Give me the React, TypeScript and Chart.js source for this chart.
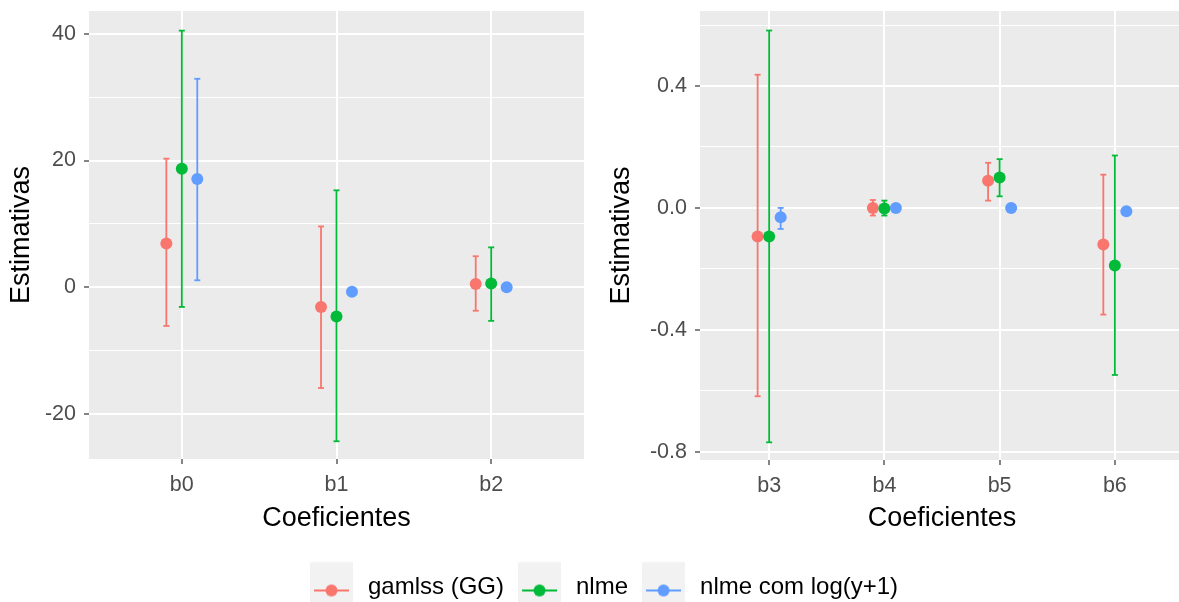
import React, { useEffect, useRef } from "react";
import { Chart, registerables } from "chart.js";

Chart.register(...registerables);

const FONT = '"Liberation Sans", Arial, Helvetica, sans-serif';

// ---------- data ----------
const seriesNames = ["gamlss (GG)", "nlme", "nlme com log(y+1)"];
const seriesColors = ["#F8766D", "#00BA38", "#619CFF"];
const dodgeOffsets = [-0.1, 0, 0.1];

const leftCategories = ["b0", "b1", "b2"];
const leftGamlssEst = [6.9, -3.1, 0.5];
const leftGamlssLow = [-6.1, -15.9, -3.7];
const leftGamlssHigh = [20.3, 9.6, 4.9];
const leftNlmeEst = [18.7, -4.6, 0.6];
const leftNlmeLow = [-3.1, -24.3, -5.3];
const leftNlmeHigh = [40.5, 15.3, 6.3];
const leftLogEst = [17.1, -0.7, 0.0];
const leftLogLow = [1.1, -1.0, -0.3];
const leftLogHigh = [32.9, -0.4, 0.3];
const leftMajorTicks = [-20, 0, 20, 40];
const leftMinorTicks = [-10, 10, 30];
const leftYRange = [-27.1, 43.6];

const rightCategories = ["b3", "b4", "b5", "b6"];
const rightGamlssEst = [-0.094, 0.0, 0.089, -0.12];
const rightGamlssLow = [-0.618, -0.025, 0.024, -0.35];
const rightGamlssHigh = [0.437, 0.026, 0.148, 0.109];
const rightNlmeEst = [-0.094, -0.002, 0.1, -0.189];
const rightNlmeLow = [-0.769, -0.025, 0.038, -0.548];
const rightNlmeHigh = [0.582, 0.024, 0.16, 0.172];
const rightLogEst = [-0.031, 0.0, 0.0, -0.011];
const rightLogLow = [-0.069, -0.005, -0.005, -0.02];
const rightLogHigh = [0.0, 0.005, 0.005, -0.002];
const rightMajorTicks = [-0.8, -0.4, 0, 0.4];
const rightMinorTicks = [-0.6, -0.2, 0.2, 0.6];
const rightYRange = [-0.827, 0.646];

const xTitle = "Coeficientes";
const yTitle = "Estimativas";

// ---------- helpers ----------
const panelBg = {
  id: "panelBg",
  beforeDraw(chart: any) {
    const { ctx, chartArea } = chart;
    if (!chartArea) return;
    ctx.save();
    ctx.fillStyle = "#EBEBEB";
    ctx.fillRect(chartArea.left, chartArea.top, chartArea.right - chartArea.left, chartArea.bottom - chartArea.top);
    ctx.restore();
  },
};

function isIn(list: number[], v: number) {
  return list.some((m) => Math.abs(m - v) < 1e-9);
}

function pointData(est: number[], off: number) {
  return est.map((v, i) => ({ x: i + off, y: v }));
}

function barData(lo: number[], hi: number[], off: number) {
  const d: any[] = [];
  lo.forEach((l, i) => {
    d.push({ x: i + off, y: l });
    d.push({ x: i + off, y: hi[i] });
    d.push({ x: i + off, y: null });
  });
  return d;
}

interface PanelSpec {
  categories: string[];
  est: number[][];
  lo: number[][];
  hi: number[][];
  majors: number[];
  minors: number[];
  yRange: number[];
  fmt: (v: number) => string;
  yWidth: number;
  xHeight: number;
  padRight: number;
  yTitlePad: number;
}

function panelConfig(p: PanelSpec): any {
  const datasets: any[] = [];
  p.est.forEach((est, s) => {
    datasets.push({
      label: seriesNames[s],
      data: pointData(est, dodgeOffsets[s]),
      showLine: false,
      pointRadius: 6,
      pointHoverRadius: 6,
      pointBackgroundColor: seriesColors[s],
      pointBorderColor: seriesColors[s],
      pointBorderWidth: 0,
      order: 2 - s,
    });
  });
  p.lo.forEach((lo, s) => {
    datasets.push({
      label: seriesNames[s] + " IC",
      data: barData(lo, p.hi[s], dodgeOffsets[s]),
      showLine: true,
      spanGaps: false,
      borderColor: seriesColors[s],
      borderWidth: 1.8,
      fill: false,
      tension: 0,
      pointStyle: "line",
      pointRadius: 3,
      pointHoverRadius: 3,
      pointBorderColor: seriesColors[s],
      pointBorderWidth: 1.8,
      order: 5 - s,
    });
  });
  const n = p.categories.length;
  const yTicks = [...p.majors, ...p.minors].sort((a, b) => a - b);
  return {
    type: "line",
    data: { datasets },
    plugins: [panelBg],
    options: {
      animation: false,
      responsive: false,
      devicePixelRatio: 1,
      events: [],
      layout: { padding: { top: 11, right: p.padRight, bottom: 10, left: 0 } },
      plugins: { legend: { display: false }, tooltip: { enabled: false } },
      scales: {
        x: {
          type: "linear",
          min: -0.6,
          max: n - 1 + 0.6,
          bounds: "data",
          afterBuildTicks: (scale: any) => {
            scale.ticks = p.categories.map((_, i) => ({ value: i }));
          },
          afterFit: (scale: any) => {
            scale.height = p.xHeight;
            scale.paddingLeft = 0;
            scale.paddingRight = 0;
          },
          border: { display: false },
          grid: {
            color: "#FFFFFF",
            lineWidth: 2,
            drawTicks: true,
            tickLength: 5,
            tickColor: "#333333",
            tickWidth: 1.2,
          },
          ticks: {
            autoSkip: false,
            maxRotation: 0,
            padding: 8,
            color: "#4D4D4D",
            font: { family: FONT, size: 21.5 },
            callback: (v: number) => p.categories[Math.round(v)] ?? "",
          },
          title: {
            display: true,
            text: xTitle,
            color: "#000000",
            padding: 0,
            font: { family: FONT, size: 27 },
          },
        },
        y: {
          type: "linear",
          min: p.yRange[0],
          max: p.yRange[1],
          bounds: "data",
          afterBuildTicks: (scale: any) => {
            scale.ticks = yTicks.map((v) => ({ value: v }));
          },
          afterFit: (scale: any) => {
            scale.width = p.yWidth;
            scale.paddingTop = 0;
            scale.paddingBottom = 0;
          },
          border: { display: false },
          grid: {
            color: "#FFFFFF",
            lineWidth: (ctx: any) => (isIn(p.majors, ctx.tick?.value) ? 2 : 1),
            drawTicks: true,
            tickLength: 5,
            tickColor: (ctx: any) => (isIn(p.majors, ctx.tick?.value) ? "#333333" : "rgba(0,0,0,0)"),
            tickWidth: 1.2,
          },
          ticks: {
            autoSkip: false,
            padding: 8,
            color: "#4D4D4D",
            font: { family: FONT, size: 21.5 },
            callback: (v: number) => (isIn(p.majors, v) ? p.fmt(v) : ""),
          },
          title: {
            display: true,
            text: yTitle,
            color: "#000000",
            padding: { top: p.yTitlePad, bottom: 0 },
            font: { family: FONT, size: 27 },
          },
        },
      },
    },
  };
}

// legend key: grey square with a horizontal line and a dot (ggplot style)
const KEY_W = 46;
const KEY_H = 70;
function makeKeyImage(color: string) {
  const c = document.createElement("canvas");
  c.width = KEY_W;
  c.height = KEY_H;
  const g = c.getContext("2d")!;
  const boxW = 43;
  const mid = KEY_H / 2;
  const boxTop = mid - 25.5;
  g.fillStyle = "#F2F2F2";
  g.fillRect(0, boxTop, boxW, 60);
  const cy = mid + 3;
  g.strokeStyle = color;
  g.lineWidth = 1.8;
  g.beginPath();
  g.moveTo(4, cy);
  g.lineTo(boxW - 4, cy);
  g.stroke();
  g.fillStyle = color;
  g.beginPath();
  g.arc(boxW / 2, cy, 6, 0, Math.PI * 2);
  g.fill();
  return c;
}

function legendConfig(): any {
  const keys = seriesColors.map((c) => makeKeyImage(c));
  return {
    type: "line",
    data: {
      datasets: seriesNames.map((name, i) => ({ label: name, data: [], borderColor: seriesColors[i] })),
    },
    options: {
      animation: false,
      responsive: false,
      devicePixelRatio: 1,
      events: [],
      layout: { padding: { top: 41.5, left: 296, right: 0, bottom: 0 } },
      scales: { x: { display: false }, y: { display: false } },
      plugins: {
        tooltip: { enabled: false },
        legend: {
          display: true,
          position: "top",
          align: "start",
          labels: {
            usePointStyle: true,
            pointStyleWidth: KEY_W,
            padding: 14,
            color: "#000000",
            font: { family: FONT, size: 24 },
            generateLabels: () =>
              seriesNames.map((name, i) => ({
                text: name,
                pointStyle: keys[i],
                fillStyle: seriesColors[i],
                strokeStyle: seriesColors[i],
                lineWidth: 0,
                hidden: false,
                datasetIndex: i,
                fontColor: "#000000",
              })),
          },
        },
      },
    },
  };
}

export default function App() {
  const leftRef = useRef<HTMLCanvasElement>(null);
  const rightRef = useRef<HTMLCanvasElement>(null);
  const legendRef = useRef<HTMLCanvasElement>(null);

  useEffect(() => {
    const charts: Chart[] = [];
    charts.push(
      new Chart(
        leftRef.current!,
        panelConfig({
          categories: leftCategories,
          est: [leftGamlssEst, leftNlmeEst, leftLogEst],
          lo: [leftGamlssLow, leftNlmeLow, leftLogLow],
          hi: [leftGamlssHigh, leftNlmeHigh, leftLogHigh],
          majors: leftMajorTicks,
          minors: leftMinorTicks,
          yRange: leftYRange,
          fmt: (v) => String(Math.round(v)),
          yWidth: 89,
          xHeight: 76,
          padRight: 6,
          yTitlePad: 5,
        })
      )
    );
    charts.push(
      new Chart(
        rightRef.current!,
        panelConfig({
          categories: rightCategories,
          est: [rightGamlssEst, rightNlmeEst, rightLogEst],
          lo: [rightGamlssLow, rightNlmeLow, rightLogLow],
          hi: [rightGamlssHigh, rightNlmeHigh, rightLogHigh],
          majors: rightMajorTicks,
          minors: rightMinorTicks,
          yRange: rightYRange,
          fmt: (v) => v.toFixed(1),
          yWidth: 110,
          xHeight: 75,
          padRight: 0,
          yTitlePad: 15,
        })
      )
    );
    charts.push(new Chart(legendRef.current!, legendConfig()));
    return () => charts.forEach((c) => c.destroy());
  }, []);

  return (
    <div
      style={{
        position: "fixed",
        left: 0,
        top: 0,
        width: 1179,
        height: 602,
        overflow: "hidden",
        background: "#FFFFFF",
      }}
    >
      <canvas ref={leftRef} width={590} height={545} style={{ position: "absolute", left: 0, top: 0, width: 590, height: 545 }} />
      <canvas ref={rightRef} width={600} height={545} style={{ position: "absolute", left: 590, top: 0, width: 600, height: 545 }} />
      <canvas ref={legendRef} width={1179} height={220} style={{ position: "absolute", left: 0, top: 520, width: 1179, height: 220 }} />
    </div>
  );
}
